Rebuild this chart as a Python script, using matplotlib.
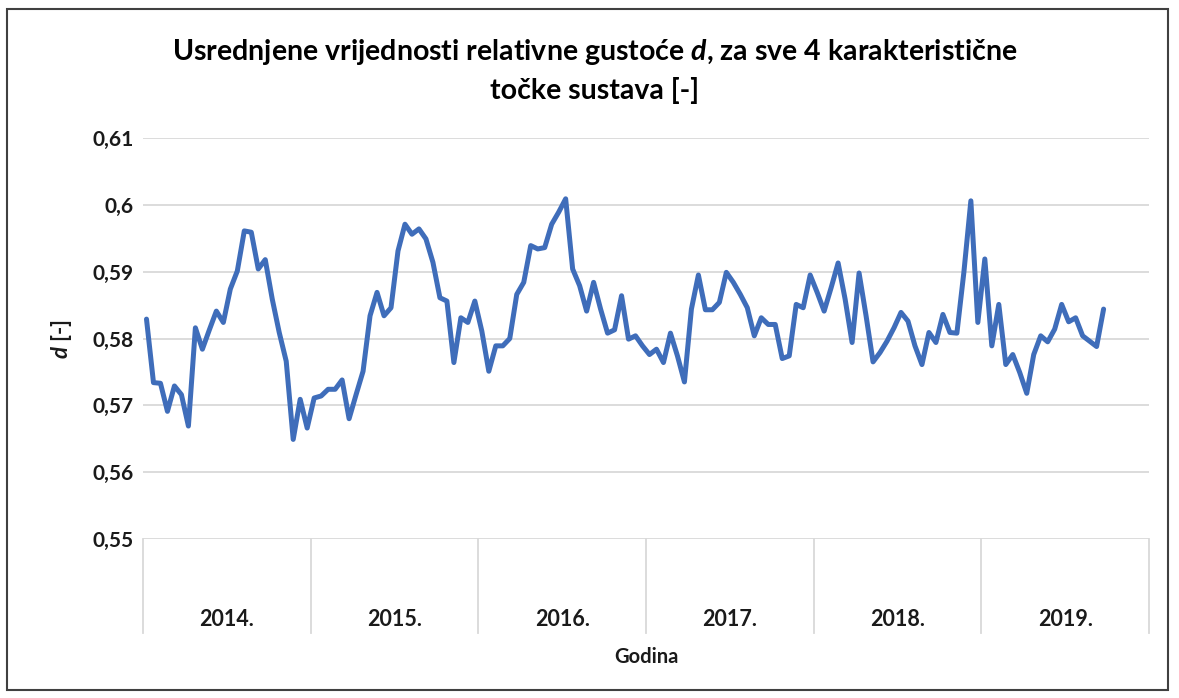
import numpy as np
import matplotlib
matplotlib.use("Agg")
import matplotlib.pyplot as plt
from matplotlib.patches import Rectangle

plt.rcParams['font.family'] = ['Lato', 'DejaVu Sans']
plt.rcParams['mathtext.fontset'] = 'custom'
plt.rcParams['mathtext.it'] = 'Lato:italic:bold'
plt.rcParams['mathtext.rm'] = 'Lato:bold'

# polumjesečne vrijednosti (24 po godini)
years = ["2014.", "2015.", "2016.", "2017.", "2018.", "2019."]
per_year = 24

d_2014 = [0.5829, 0.5734, 0.5733, 0.5691, 0.5729, 0.5716, 0.5669, 0.5816, 0.5784, 0.5813, 0.5841, 0.5824,
          0.5874, 0.5901, 0.5961, 0.5959, 0.5904, 0.5918, 0.5859, 0.5809, 0.5766, 0.5649, 0.5709, 0.5666]
d_2015 = [0.5711, 0.5714, 0.5724, 0.5724, 0.5738, 0.5680, 0.5716, 0.5751, 0.5834, 0.5869, 0.5834, 0.5846,
          0.5931, 0.5971, 0.5956, 0.5964, 0.5949, 0.5914, 0.5861, 0.5856, 0.5764, 0.5831, 0.5824, 0.5856]
d_2016 = [0.5811, 0.5751, 0.5789, 0.5789, 0.5800, 0.5866, 0.5884, 0.5939, 0.5934, 0.5936, 0.5971, 0.5989,
          0.6009, 0.5904, 0.5879, 0.5841, 0.5884, 0.5844, 0.5808, 0.5813, 0.5864, 0.5799, 0.5804, 0.5789]
d_2017 = [0.5776, 0.5784, 0.5764, 0.5808, 0.5774, 0.5735, 0.5844, 0.5895, 0.5843, 0.5843, 0.5854, 0.5899,
          0.5884, 0.5866, 0.5846, 0.5804, 0.5831, 0.5821, 0.5821, 0.5770, 0.5774, 0.5851, 0.5846, 0.5895]
d_2018 = [0.5869, 0.5841, 0.5876, 0.5913, 0.5859, 0.5794, 0.5898, 0.5834, 0.5765, 0.5779, 0.5796, 0.5816,
          0.5839, 0.5826, 0.5789, 0.5761, 0.5809, 0.5794, 0.5836, 0.5809, 0.5808, 0.5899, 0.6006, 0.5824]
d_2019 = [0.5919, 0.5789, 0.5851, 0.5761, 0.5776, 0.5749, 0.5718, 0.5776, 0.5804, 0.5795, 0.5814, 0.5851,
          0.5825, 0.5831, 0.5804, 0.5796, 0.5788, 0.5844]

y_ticks = [0.55, 0.56, 0.57, 0.58, 0.59, 0.60, 0.61]
y_labels = ["0,55", "0,56", "0,57", "0,58", "0,59", "0,6", "0,61"]

d = np.concatenate([d_2014, d_2015, d_2016, d_2017, d_2018, d_2019])
x = np.arange(len(d))
n_cat = per_year * len(years)

W, H = 1179, 698
fig = plt.figure(figsize=(W / 100, H / 100), dpi=100)
ax = fig.add_axes([143 / W, 1 - 539 / H, (1149 - 143) / W, (539 - 138) / H])

ax.plot(x, d, color='#3F6DBA', lw=3.6, solid_joinstyle='round', solid_capstyle='round')
ax.set_xlim(-0.5, n_cat - 0.5)
ax.set_ylim(0.55, 0.61)
ax.set_yticks(y_ticks)
ax.set_yticklabels(y_labels, fontweight='bold', fontsize=15, color='#1a1a1a')
ax.tick_params(axis='y', length=0, pad=7)
ax.set_xticks([])
for s in ax.spines.values():
    s.set_visible(False)
ax.grid(axis='y', color='#d9d9d9', lw=1.3)
ax.set_axisbelow(True)

# kategorije godina ispod osi
xt = ax.get_xaxis_transform()
for k in range(len(years) + 1):
    xb = k * per_year - 0.5
    ax.plot([xb, xb], [0, -0.235], transform=xt, clip_on=False, color='#d9d9d9', lw=1.3)
for k, yr in enumerate(years):
    ax.text(k * per_year + per_year / 2 - 0.5, -0.2, yr, transform=xt, ha='center', va='center',
            fontweight='bold', fontsize=15.5, color='#1a1a1a')

fig.text(646 / W, 1 - 657 / H, "Godina", ha='center', va='center', fontweight='bold',
         fontsize=14.5, color='#1a1a1a')
fig.text(62 / W, 1 - 339 / H, r"$\mathit{d}$ [-]", rotation=90, ha='center', va='center',
         fontweight='bold', fontsize=16, color='#1a1a1a')

fig.text(595 / W, 1 - 52 / H, r"Usrednjene vrijednosti relativne gustoće $\mathit{d}$, za sve 4 karakteristične",
         ha='center', va='center', fontweight='bold', fontsize=20.5, color='#000000')
fig.text(595 / W, 1 - 90 / H, "točke sustava [-]", ha='center', va='center', fontweight='bold',
         fontsize=20.5, color='#000000')

fig.patches.append(Rectangle((7 / W, 1 - 690 / H), (1168 - 7) / W, (690 - 9) / H, transform=fig.transFigure,
                             fill=False, ec='#404040', lw=1.5))

fig.savefig("out.png", dpi=100)
